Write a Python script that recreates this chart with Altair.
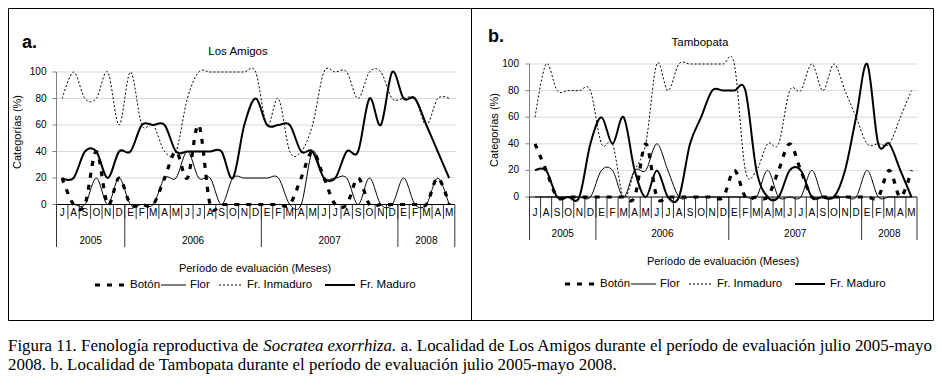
import altair as alt
import pandas as pd

FONT = "Liberation Sans"
SERIF = "Liberation Serif"

# ---------------- data ----------------
MESES = ["J", "A", "S", "O", "N", "D",
         "E", "F", "M", "A", "M", "J", "J", "A", "S", "O", "N", "D",
         "E", "F", "M", "A", "M", "J", "J", "A", "S", "O", "N", "D",
         "E", "F", "M", "A", "M"]
ANIOS = ["2005", "2006", "2007", "2008"]
MESES_POR_ANIO = [6, 12, 12, 5]
SERIES = ["Botón", "Flor", "Fr. Inmaduro", "Fr. Maduro"]
TICKS_Y = [0, 20, 40, 60, 80, 100]

# a. Los Amigos
A_BOTON = [20, 0, 0, 40, 0, 20,
           0, 0, 0, 20, 40, 20, 60, 0, 0, 0, 0, 0,
           0, 0, 0, 20, 40, 20, 0, 0, 20, 0, 0, 0,
           0, 0, 0, 20, 0]
A_FLOR = [0, 0, 0, 20, 0, 20,
          0, 0, 0, 20, 20, 40, 20, 20, 0, 20, 20, 20,
          20, 20, 0, 0, 40, 20, 20, 20, 0, 20, 0, 0,
          20, 0, 0, 20, 0]
A_INMADURO = [80, 100, 80, 80, 100, 60,
              100, 60, 60, 40, 40, 80, 100, 100, 100, 100, 100, 100,
              60, 80, 40, 40, 60, 100, 100, 100, 80, 100, 100, 80,
              80, 80, 60, 80, 80]
A_MADURO = [20, 20, 40, 40, 20, 40,
            40, 60, 60, 60, 40, 40, 40, 40, 40, 20, 60, 80,
            60, 60, 60, 40, 40, 20, 20, 40, 40, 80, 60, 100,
            80, 80, 60, 40, 20]

# b. Tambopata
B_BOTON = [40, 20, 0, 0, 0, 0,
           0, 0, 0, 0, 40, 0, 0, 0, 0, 0, 0, 0,
           20, 0, 0, 0, 20, 40, 20, 0, 0, 0, 0, 0,
           0, 0, 20, 0, 20]
B_FLOR = [0, 0, 0, 0, 0, 0,
          20, 20, 0, 20, 20, 40, 20, 0, 0, 0, 0, 0,
          0, 0, 0, 20, 0, 0, 0, 20, 0, 0, 0, 0,
          20, 0, 0, 0, 0]
B_INMADURO = [60, 100, 80, 80, 80, 80,
              40, 40, 0, 20, 40, 100, 80, 100, 100, 100, 100, 100,
              100, 20, 20, 40, 40, 80, 80, 100, 80, 100, 80, 60,
              40, 40, 40, 60, 80]
B_MADURO = [20, 20, 0, 0, 0, 40,
            60, 40, 60, 20, 0, 20, 0, 0, 40, 60, 80, 80,
            80, 80, 20, 0, 0, 20, 20, 0, 0, 0, 20, 60,
            100, 40, 40, 20, 0]

CAPTION_1 = ["Figura 11. Fenología reproductiva de", "Socratea exorrhiza.",
             "a. Localidad de Los Amigos durante el período de evaluación julio 2005-mayo"]
CAPTION_2 = "2008. b.  Localidad de Tambopata durante el período de evaluación julio 2005-mayo 2008."

# ---------------- styles / layout ----------------
ESTILO = {
    "Botón": {"strokeWidth": 3.2, "strokeDash": [5, 7]},
    "Flor": {"strokeWidth": 1.0},
    "Fr. Inmaduro": {"strokeWidth": 1.0, "strokeDash": [2, 2]},
    "Fr. Maduro": {"strokeWidth": 2.0},
}
LEG_SYM0 = [0, 66, 124, 230]
LEG_SYM1 = [32, 91, 148, 260]
LEG_LAB = [35, 95, 152, 265]

PANEL_A = dict(letra="a.", titulo="Los Amigos", xr=[48.5, 446.8], yr=[196.5, 64], tick_x=38.5,
               letra_xy=(14, 35), titulo_xy=(230, 44), ytit_xy=(10, 124), mes_y=205,
               sep_mes=211, sep_anio=239, anio_y=232.5, xtit_xy=(247, 261), leg_x0=87, leg_y=277)
PANEL_B = dict(letra="b.", titulo="Tambopata", xr=[521.5, 909], yr=[189, 56], tick_x=511,
               letra_xy=(480, 29), titulo_xy=(692, 35), ytit_xy=(487, 122), mes_y=205,
               sep_mes=210, sep_anio=232, anio_y=226, xtit_xy=(715, 254), leg_x0=557, leg_y=276)

CAP_FS = 16.9
# caption segment offsets (Times-metric widths in em: segment 1 = 15.109, italic = 7.888, space = 0.25)
CAP_X = [0, 15.109 * CAP_FS, (15.109 + 7.888 + 0.25) * CAP_FS]


def texto(t, x, y, **kw):
    base = dict(font=FONT, color="black", baseline="middle")
    base.update(kw)
    return alt.Chart(pd.DataFrame({"t": [t]})).mark_text(**base).encode(
        x=alt.value(x), y=alt.value(y), text="t:N")


def panel(cfg, valores):
    xr, yr = cfg["xr"], cfg["yr"]
    y0 = yr[0]
    n = len(MESES)
    XS = alt.Scale(domain=[-0.5, n - 0.5], range=xr, nice=False, zero=False)
    YS = alt.Scale(domain=[0, 100], range=yr, nice=False, zero=False)
    capas = []
    ticks = pd.DataFrame({"v": TICKS_Y})
    # gridlines
    capas.append(alt.Chart(ticks[ticks.v > 0]).mark_rule(color="#d9d9d9", strokeWidth=1).encode(
        y=alt.Y("v:Q", scale=YS, axis=None), x=alt.value(xr[0]), x2=alt.value(xr[1] + 1)))
    # y ticks
    capas.append(alt.Chart(ticks).mark_rule(color="#808080").encode(
        y=alt.Y("v:Q", scale=YS, axis=None), x=alt.value(xr[0] - 4), x2=alt.value(xr[0])))
    capas.append(alt.Chart(ticks).mark_text(font=FONT, fontSize=10, align="right",
                                            baseline="middle", color="black").encode(
        y=alt.Y("v:Q", scale=YS, axis=None), x=alt.value(cfg["tick_x"]), text="v:Q"))
    # y axis line
    capas.append(alt.Chart(ticks.head(1)).mark_rule(color="#808080").encode(
        x=alt.value(xr[0]), y=alt.value(yr[1]), y2=alt.value(y0)))
    # month separators
    sep = pd.DataFrame({"b": [i + 0.5 for i in range(n - 1)]})
    capas.append(alt.Chart(sep).mark_rule(color="#333333").encode(
        x=alt.X("b:Q", scale=XS, axis=None), y=alt.value(y0), y2=alt.value(cfg["sep_mes"])))
    # year separators
    lim = [-0.5]
    for m in MESES_POR_ANIO:
        lim.append(lim[-1] + m)
    capas.append(alt.Chart(pd.DataFrame({"b": lim})).mark_rule(color="#333333").encode(
        x=alt.X("b:Q", scale=XS, axis=None), y=alt.value(y0), y2=alt.value(cfg["sep_anio"])))
    # x axis line
    capas.append(alt.Chart(ticks.head(1)).mark_rule(color="black").encode(
        x=alt.value(xr[0]), x2=alt.value(xr[1]), y=alt.value(y0)))
    # month labels
    dm = pd.DataFrame({"i": list(range(n)), "m": MESES})
    capas.append(alt.Chart(dm).mark_text(font=FONT, fontSize=10, baseline="middle", color="black").encode(
        x=alt.X("i:Q", scale=XS, axis=None), y=alt.value(cfg["mes_y"]), text="m:N"))
    # year labels
    centros = [(lim[k] + lim[k + 1]) / 2 for k in range(len(ANIOS))]
    capas.append(alt.Chart(pd.DataFrame({"c": centros, "a": ANIOS})).mark_text(
        font=FONT, fontSize=10, baseline="middle", color="black").encode(
        x=alt.X("c:Q", scale=XS, axis=None), y=alt.value(cfg["anio_y"]), text="a:N"))
    # series
    for s, vals in zip(SERIES, valores):
        df = pd.DataFrame({"i": list(range(n)), "v": vals})
        capas.append(alt.Chart(df).mark_line(interpolate="cardinal", tension=0, color="black",
                                             **ESTILO[s]).encode(
            x=alt.X("i:Q", scale=XS, axis=None), y=alt.Y("v:Q", scale=YS, axis=None)))
    # texts
    capas.append(texto(cfg["letra"], *cfg["letra_xy"], fontSize=18, fontWeight="bold", align="left"))
    capas.append(texto(cfg["titulo"], *cfg["titulo_xy"], fontSize=11.5, align="center"))
    capas.append(texto("Categorías (%)", *cfg["ytit_xy"], fontSize=11, align="center", angle=270))
    capas.append(texto("Período de evaluación (Meses)", *cfg["xtit_xy"], fontSize=11, align="center"))
    # legend
    x0, ly = cfg["leg_x0"], cfg["leg_y"]
    for k, s in enumerate(SERIES):
        capas.append(alt.Chart(pd.DataFrame({"s": [s]})).mark_rule(color="black", **ESTILO[s]).encode(
            x=alt.value(x0 + LEG_SYM0[k]), x2=alt.value(x0 + LEG_SYM1[k]), y=alt.value(ly)))
        capas.append(texto(s, x0 + LEG_LAB[k], ly, fontSize=11.5, align="left"))
    return capas


capas = []
capas += panel(PANEL_A, [A_BOTON, A_FLOR, A_INMADURO, A_MADURO])
capas += panel(PANEL_B, [B_BOTON, B_FLOR, B_INMADURO, B_MADURO])

# frame
uno = pd.DataFrame({"k": [0]})
capas.append(alt.Chart(uno).mark_rect(fillOpacity=0, stroke="black", strokeWidth=1).encode(
    x=alt.value(0.5), x2=alt.value(925.5), y=alt.value(0.5), y2=alt.value(312.5)))
capas.append(alt.Chart(uno).mark_rule(color="black").encode(
    x=alt.value(463.5), y=alt.value(0.5), y2=alt.value(312.5)))

# caption
capas.append(texto(CAPTION_1[0], CAP_X[0], 338, font=SERIF, fontSize=CAP_FS, align="left"))
capas.append(texto(CAPTION_1[1], CAP_X[1], 338, font=SERIF, fontSize=CAP_FS, align="left",
                   fontStyle="italic"))
capas.append(texto(CAPTION_1[2], CAP_X[2], 338, font=SERIF, fontSize=CAP_FS, align="left"))
capas.append(texto(CAPTION_2, 0, 357, font=SERIF, fontSize=CAP_FS, align="left"))

chart = alt.layer(*capas).resolve_scale(x="independent", y="independent").properties(
    width=926, height=370, autosize=alt.AutoSizeParams(type="none"), padding=0
).configure_view(stroke=None)

chart.save("out.html", embed_options={"renderer": "svg", "actions": False})
